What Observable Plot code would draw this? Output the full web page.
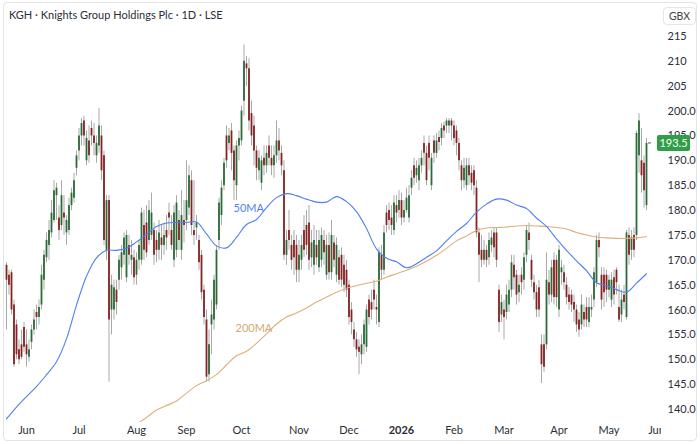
<!DOCTYPE html>
<html><head><meta charset="utf-8">
<script src="https://cdn.jsdelivr.net/npm/d3@7"></script>
<script src="https://cdn.jsdelivr.net/npm/@observablehq/plot@0.6"></script>
<style>
body{margin:0;background:#fff;}
#wrap{position:relative;width:700px;height:444px;overflow:hidden;font-family:Lato,"Noto Sans",sans-serif;background:#fff;}
#wrap svg{position:absolute;left:0;top:0;}
#frame{position:absolute;left:3px;top:2px;width:694px;height:439px;box-sizing:border-box;border:1px solid #e4e4e4;border-radius:4px;pointer-events:none;}
#title{position:absolute;left:9px;top:8px;font-size:11px;color:#2a2e39;white-space:nowrap;}
#unit{position:absolute;left:663px;top:7px;width:33px;height:18px;box-sizing:border-box;border:1px solid #e6e6e6;border-radius:4px;font-size:10.5px;color:#444;text-align:center;line-height:16px;background:#fff;}
#cut{position:absolute;left:661px;top:424px;width:34px;height:15px;background:#fff;}
</style></head>
<body><div id="wrap"></div>
<script>
const title = "KGH · Knights Group Holdings Plc · 1D · LSE";
const unitLabel = "GBX";
const startDate = "2025-05-20";
const holidays = ["2025-05-26","2025-08-25","2025-12-25","2025-12-26","2026-01-01","2026-04-03","2026-04-06","2026-05-04","2026-05-25"];

const open = [169,167,167.5,161,157,152,153,156.5,153,150.5,
153.5,156,159.5,158.5,161,166,170.5,173,175.5,178,
183,178.5,177,179.5,175.5,176,181,182.5,188.5,192,
195,198,190,194,196.5,195,191,193,195,191,
172,182,160,160,164,166,168.5,171,166.5,173,
170,170.5,167,170,170,177,177.5,174,175,176,
174,172,174.5,173,176,179.5,176,170,172,178,
172,178,178,180.5,186,176,176.5,174,171,164,
158,147,157,158,161,174,179,185,195,193.5,
196,192,185,193,194,202,209.5,208.5,199.5,197,
192,188,185.5,190.5,189,193,190.5,189,191,194,
191.5,188,171,176,173,174,173,168,170,176,
177,177.5,170.5,169,173,168.5,170,174,167,173,
167.5,173.5,167,170.5,171,169,168,165,160,156,
154,152.5,151,153,152.5,162,161.5,164,160.5,157.5,
171,168,179.5,180,178.5,176,181,180,182,178.5,
180,178.5,184.5,189,187,186,189,193.5,191.5,193.5,
185,194,191.5,194.7,194.5,197,197,197,198,197,
196,193.5,189,186,185,189,187.5,188,184.5,175.5,
172,170,172,170.5,173,175.5,175.5,164,159,160,
159.5,161,164,169,167,163.5,167,166,171,175.5,
170,165.5,163.5,164.5,153,153,153,165.5,163,170,
170,160,167.5,167.5,165,163,163,161.5,160,158,
157,159.5,160.5,157.5,160,162,165.5,174,167,167,
167,164,162,166.5,168,160.5,159,163,158.5,175,
172,175,175,191,190,189.5,181];

const high = [169.5,168,168,162,158,154,156,157.5,156,154,
157,160,161,162,169,172,175.5,178,182,186,
185.5,181,186,183,179,182.5,184.5,187.5,192,196.5,
198.5,199,196,197,198,197.5,195,200.5,197,192,
183,183,167,166,166,171,173,175.5,176,175,
174,172,171.5,174,180.5,180,181,182,183.5,177.5,
176,178,177,177.5,179,181.5,179,181,183,180,
184,182,190,189,188,186,179,175,172,165,
160,156,162,167,173,182.5,186,190.5,197,196.5,
197.5,193,194,196,201,213.3,211,210.5,202,199,
193,192,191,193,193,195,193,193,198,196.5,
193,190,176,180,175,176,175,174,175,179,
180,181,176,177,176,176,176.5,176,175,175.5,
178,175,174.5,172,172.5,171,170,166,161.5,157.5,
155.5,154,155,158,161,163,164,166,163,172.5,
173,177,181,181.5,181,183,183,184,183.5,182,
184.5,185,188,190.5,190,190.5,192,195,193,195,
191.5,195,195.5,196,197.5,197.8,198.5,198.5,198.5,198,
197,194.5,190,190.5,190.5,190.5,189,189,186,176.5,
175,174,173,175.5,176,176.5,176.5,165,163,162,
165,166,171,171,168,167,168.5,171.5,177,177.5,
171,167,165,166,155,155,171.5,168,170,171.5,
171,173,170,169,166.5,164.5,164,163,161,159.5,
163,161,162.5,162.5,163,168.5,175,175.5,168.5,168.5,
168,167,167.5,168,168.5,165,164,165,176,176.5,
176,176.5,196,199.5,196.5,191,194.5];

const low = [156,163,159,148.5,150,149,150,151.5,148.5,149.5,
152,155,156,157,160,164,169.5,170,174.5,177.5,
178,174,176,175,173,175,180,181.5,187,190,
193,193,189,189.5,193,191,189.5,191.5,186,173,
170,145.5,155,158,159,164,166,169,165.5,169,
167,165,165,168,169,170,170.5,173,174,169,
169.5,170,170,171,172,175,172,168.5,170.5,172,
170,173.5,176,179,175,173,174,168,162,157,
145.5,145.5,151,156,160,172,177,184,188.5,192,
188,182,182,190,193,199,205,196,193,189,
186,186,184,187,187.5,189,187,186.5,189.5,190,
187,170,169,172,168,167,165.5,165.5,168,170.5,
171,168,168.5,167,169,167.5,168.5,169,166,166,
166,168.5,165.5,165,164.5,163.5,162.5,157,155,152.5,
150.5,147,149,151,151.5,157,158,160,157,156.5,
166,167,175.5,176,175,175,177.5,178.5,177,177.5,
179.5,177.5,183,185,185.5,184,187.5,189,185,188,
184,189.5,190.5,192,193,194.5,195.5,195.5,194,193,
191,188,184,184.5,184,185,184,183,174.5,165.5,
168.5,169,168.5,169,171.5,170.5,168.5,155.5,157.5,154,
158,159.5,162.5,164,161,161.5,163,164,169.5,172,
164.5,162,158.5,158.5,145.2,147.5,152,161,161.5,161,
160.5,158.5,165,164,161,160,159.5,157.5,155.5,154.5,
156,156.5,156.5,156.5,158.5,160.5,164.5,170.5,160,160.5,
161.5,162.5,160.5,161,163,157.5,157.5,160,158,169,
170,170.5,174,187.5,183.5,180.5,180];

const close = [166,165,160,149,151,150,150.5,152.5,151,152,
156,158,158.5,160.5,167,171,174,176,179.5,184,
184.5,176,183,178.5,178,181,183.5,186,191,195,
197.5,195,194.5,191,195,193.5,193.5,197,188,174,
182,158,165,164.5,161.5,170,171.5,174.5,175,171,
171,166.5,170,173,179.5,172,171.5,180,179.5,171,
172,175.5,173,175,174.5,178.5,173,179.5,181.5,174,
179,177,182,187,177,175,177.5,169.5,163.5,158.5,
146.5,153,159,166,172,181.5,184.5,189.5,190,195,
191.5,186,193,194.5,200,210,208.5,198,195,192,
188.5,190.5,190,189,191.5,190.5,189,191,194,192,
189,171,174,174,170,170.5,168,171,173,172,
173,170,173.5,174,170.5,174,175,171.5,173,167.5,
175,170,173,166,166,165,164,158.5,157.5,154,
152,151.5,153,157,160,158.5,160,162,160,171.5,
168,175.5,177,178,177,181.5,179.5,182,178.5,180,
182.5,183,186.5,186.5,188.5,189,190.5,191.5,186,190.5,
190.5,191.5,194,193.7,196.5,196,198,198,197,194.5,
193.5,190,186,188.5,189,187,185.5,185,175.5,171,
170,172,170,174,174.5,172.5,170,157.5,161.5,158.5,
163,164,169.5,166.5,163,165,165.5,170.5,176,174,
166,163.5,160,160,149,148.5,166,163,168.5,162.5,
162.5,172,168.5,165.5,162.5,161.5,161,160,157,156,
161,158,158,160.5,160.5,167.5,174,172.5,162,163.5,
164,166,166,163,165.5,158,162,161.5,175.5,171,
174.5,172,195.5,198,187,184,193.5];

// moving averages read every 4th session
const maStep = 4;
const ma50 = [138.1,140.5,142.6,144.6,147.0,149.6,154.2,161.0,166.8,170.5,
172.0,172.0,172.4,173.7,175.2,176.8,177.5,177.6,177.6,177.7,
175.3,172.9,172.5,174.6,177.2,178.2,180.6,182.6,183.4,183.0,
182.3,181.7,181.7,182.8,181.8,179.8,176.4,172.3,170.4,169.7,
168.5,169.3,170.6,171.9,173.9,175.8,177.4,179.7,181.3,182.3,
182.1,181.1,180.4,178.5,176.8,174.3,172.0,169.9,167.9,165.5,
164.9,164.1,163.6,165.4,167.3];
const ma200 = [null,null,null,null,null,null,null,null,null,null,null,null,null,
137.0,138.4,139.9,140.8,141.7,143.3,144.8,145.8,147.0,149.0,
150.8,151.7,153.3,155.2,157.2,158.6,159.4,160.4,161.6,162.6,
163.6,164.4,164.9,165.4,165.8,166.6,167.3,168.0,168.8,169.8,
171.0,172.4,173.9,174.9,176.0,176.5,176.6,176.7,176.9,177.0,
176.9,176.8,176.6,176.3,175.6,175.1,174.7,174.5,174.4,174.4,
174.5,174.8];

const monthLabels = ["Jun","Jul","Aug","Sep","Oct","Nov","Dec","2026","Feb","Mar","Apr","May","Jun"];
const yTicks = [140,145,150,155,160,165,170,175,180,185,190,195,200,205,210,215];
const yTickLabels = ["140.0","145.0","150.0","155.0","160.0","165.0","170.0","175.0","180.0","185.0","190.0","195.0","200.0","205","210","215"];

// trading calendar
const hol = new Set(holidays);
const cal = [];
let t = Date.parse(startDate + "T00:00:00Z");
while (cal.length < close.length + 10) {
  const d = new Date(t);
  const wd = d.getUTCDay();
  if (wd !== 0 && wd !== 6 && !hol.has(d.toISOString().slice(0,10))) cal.push(d);
  t += 86400000;
}
const candles = close.map((c, i) => ({i, date: cal[i], open: open[i], high: high[i], low: low[i], close: c}));
const up = candles.filter(d => d.close >= d.open);
const down = candles.filter(d => d.close < d.open);
const monthTicks = [];
for (let k = 1; k < cal.length; k++) if (cal[k].getUTCMonth() !== cal[k-1].getUTCMonth()) monthTicks.push({i: k});
monthTicks.forEach((m, j) => m.label = monthLabels[j]);
const ticksX = monthTicks.filter(m => m.label !== undefined);
const ma50Data = ma50.map((v, k) => ({i: k * maStep, v}));
const ma200Data = ma200.map((v, k) => ({i: k * maStep, v})).filter(d => d.v != null);
const yLabelMap = new Map(yTicks.map((v, k) => [v, yTickLabels[k]]));
const last = candles[candles.length - 1];
const n = candles.length - 1;

const font = "Lato, 'Noto Sans', sans-serif";
const chart = Plot.plot({
  width: 700, height: 444,
  marginLeft: 0, marginRight: 45, marginTop: 28, marginBottom: 22,
  style: {fontFamily: font, fontSize: "11px", color: "#2a2e39", background: "transparent"},
  x: {type: "linear", domain: [0, n], range: [6, 646], axis: null},
  y: {domain: [140, 215], range: [409, 36], axis: null},
  marks: [
    Plot.ruleX(candles, {x: "i", y1: "low", y2: "high", stroke: "#a9a9a9", strokeWidth: 1, clip: true}),
    Plot.ruleX(up, {x: "i", y1: "open", y2: "close", stroke: "#2c6a38", strokeWidth: 1.8, clip: true}),
    Plot.ruleX(down, {x: "i", y1: "open", y2: "close", stroke: "#852222", strokeWidth: 1.8, clip: true}),
    Plot.line(ma200Data, {x: "i", y: "v", stroke: "#ddb07a", strokeWidth: 1.1, curve: "catmull-rom", clip: true}),
    Plot.line(ma50Data, {x: "i", y: "v", stroke: "#4f7ff2", strokeWidth: 1.1, curve: "catmull-rom", clip: true}),
    Plot.text([{i: 90.8, v: 180.4, label: "50MA"}], {x: "i", y: "v", text: "label", fill: "#4f7ff2", textAnchor: "start", fontSize: 11}),
    Plot.text([{i: 91.6, v: 156.2, label: "200MA"}], {x: "i", y: "v", text: "label", fill: "#d6a86f", textAnchor: "start", fontSize: 11}),
    Plot.axisY(yTicks, {anchor: "right", tickSize: 0, tickPadding: 12, tickFormat: d => yLabelMap.get(d), color: "#2a2e39", fontSize: 11}),
    Plot.text(ticksX.filter(d => d.label !== "2026"), {x: "i", text: "label", frameAnchor: "bottom", dy: 11, fill: "#2a2e39", fontSize: 11}),
    Plot.text(ticksX.filter(d => d.label === "2026"), {x: "i", text: "label", frameAnchor: "bottom", dy: 11, fill: "#2a2e39", fontSize: 11, fontWeight: "bold"})
  ]
});

// last price marker using the chart's scales
const sx = chart.scale("x"), sy = chart.scale("y");
const yl = sy.apply(last.close);
const xl = sx.apply(last.i);
const svg = d3.select(chart);
svg.append("line").attr("x1", xl + 2).attr("x2", xl + 5).attr("y1", yl).attr("y2", yl).attr("stroke", "#555").attr("stroke-width", 1);
svg.append("rect").attr("x", 657).attr("y", yl - 8).attr("width", 33).attr("height", 16).attr("rx", 2).attr("fill", "#2e9e47");
svg.append("text").attr("x", 673.5).attr("y", yl).attr("dy", "0.35em").attr("text-anchor", "middle")
  .attr("fill", "#fff").attr("font-size", 11).attr("font-family", font).text(last.close.toFixed(1));

const wrap = document.getElementById("wrap");
wrap.appendChild(chart);
const cut = document.createElement("div"); cut.id = "cut"; wrap.appendChild(cut);
const tt = document.createElement("div"); tt.id = "title"; tt.textContent = title; wrap.appendChild(tt);
const un = document.createElement("div"); un.id = "unit"; un.textContent = unitLabel; wrap.appendChild(un);
const fr = document.createElement("div"); fr.id = "frame"; wrap.appendChild(fr);
</script>
</body></html>
